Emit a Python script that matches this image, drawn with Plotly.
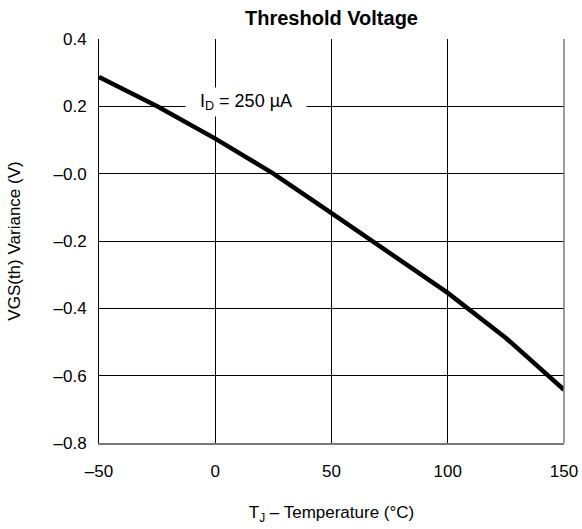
import plotly.graph_objects as go

# Data
temperature_c = [-50, -25, 0, 25, 50, 75, 100, 125, 150]
vgs_variance_v = [0.287, 0.200, 0.104, 0.0, -0.117, -0.236, -0.354, -0.488, -0.642]

x_ticks = [-50, 0, 50, 100, 150]
x_ticktext = ["–50", "0", "50", "100", "150"]
y_ticks = [0.4, 0.2, 0.0, -0.2, -0.4, -0.6, -0.8]
y_ticktext = ["0.4", "0.2", "–0.0", "–0.2", "–0.4", "–0.6", "–0.8"]

FONT = "Liberation Sans, Arial, sans-serif"

fig = go.Figure()
fig.add_trace(go.Scatter(
    x=temperature_c, y=vgs_variance_v, mode="lines",
    line=dict(color="black", width=4.5), showlegend=False, hoverinfo="skip",
))

fig.add_annotation(
    x=13.2, y=0.212, xref="x", yref="y",
    text="I<sub>D</sub> = 250 µA", showarrow=False,
    font=dict(family=FONT, size=18, color="black"),
    bgcolor="white", width=120, height=28, borderpad=0,
)

# right border (gray)
fig.add_shape(type="line", xref="paper", yref="paper", x0=1, x1=1, y0=0, y1=1,
              line=dict(color="#7a7a7a", width=1.5), layer="above")

fig.update_layout(
    width=582, height=529,
    margin=dict(l=99, r=18, t=39, b=86),
    paper_bgcolor="white", plot_bgcolor="white",
    font=dict(family=FONT, size=17, color="black"),
    title=dict(text="<b>Threshold Voltage</b>", x=(99 + 564) / 2 / 582, xanchor="center",
               y=1 - 18 / 529, yanchor="middle", font=dict(size=20, family=FONT, color="black")),
    xaxis=dict(
        range=[-50, 150], tickvals=x_ticks, ticktext=x_ticktext,
        showgrid=True, gridcolor="black", gridwidth=1,
        showline=True, linecolor="#7a7a7a", linewidth=1.5,
        ticks="outside", ticklen=12, tickcolor="rgba(0,0,0,0)",
        zeroline=False, automargin=False,
        title=dict(text="T<sub>J</sub> – Temperature (°C)", standoff=26,
                   font=dict(size=17, family=FONT)),
        tickfont=dict(size=17, family=FONT),
    ),
    yaxis=dict(
        range=[-0.8, 0.4], tickvals=y_ticks, ticktext=y_ticktext,
        showgrid=True, gridcolor="black", gridwidth=1,
        showline=True, linecolor="black", linewidth=1,
        ticks="outside", ticklen=8, tickcolor="rgba(0,0,0,0)",
        zeroline=False, automargin=False,
        title=dict(text="VGS(th) Variance (V)", standoff=28,
                   font=dict(size=17, family=FONT)),
        tickfont=dict(size=17, family=FONT),
    ),
)

fig.write_html("out.html")
